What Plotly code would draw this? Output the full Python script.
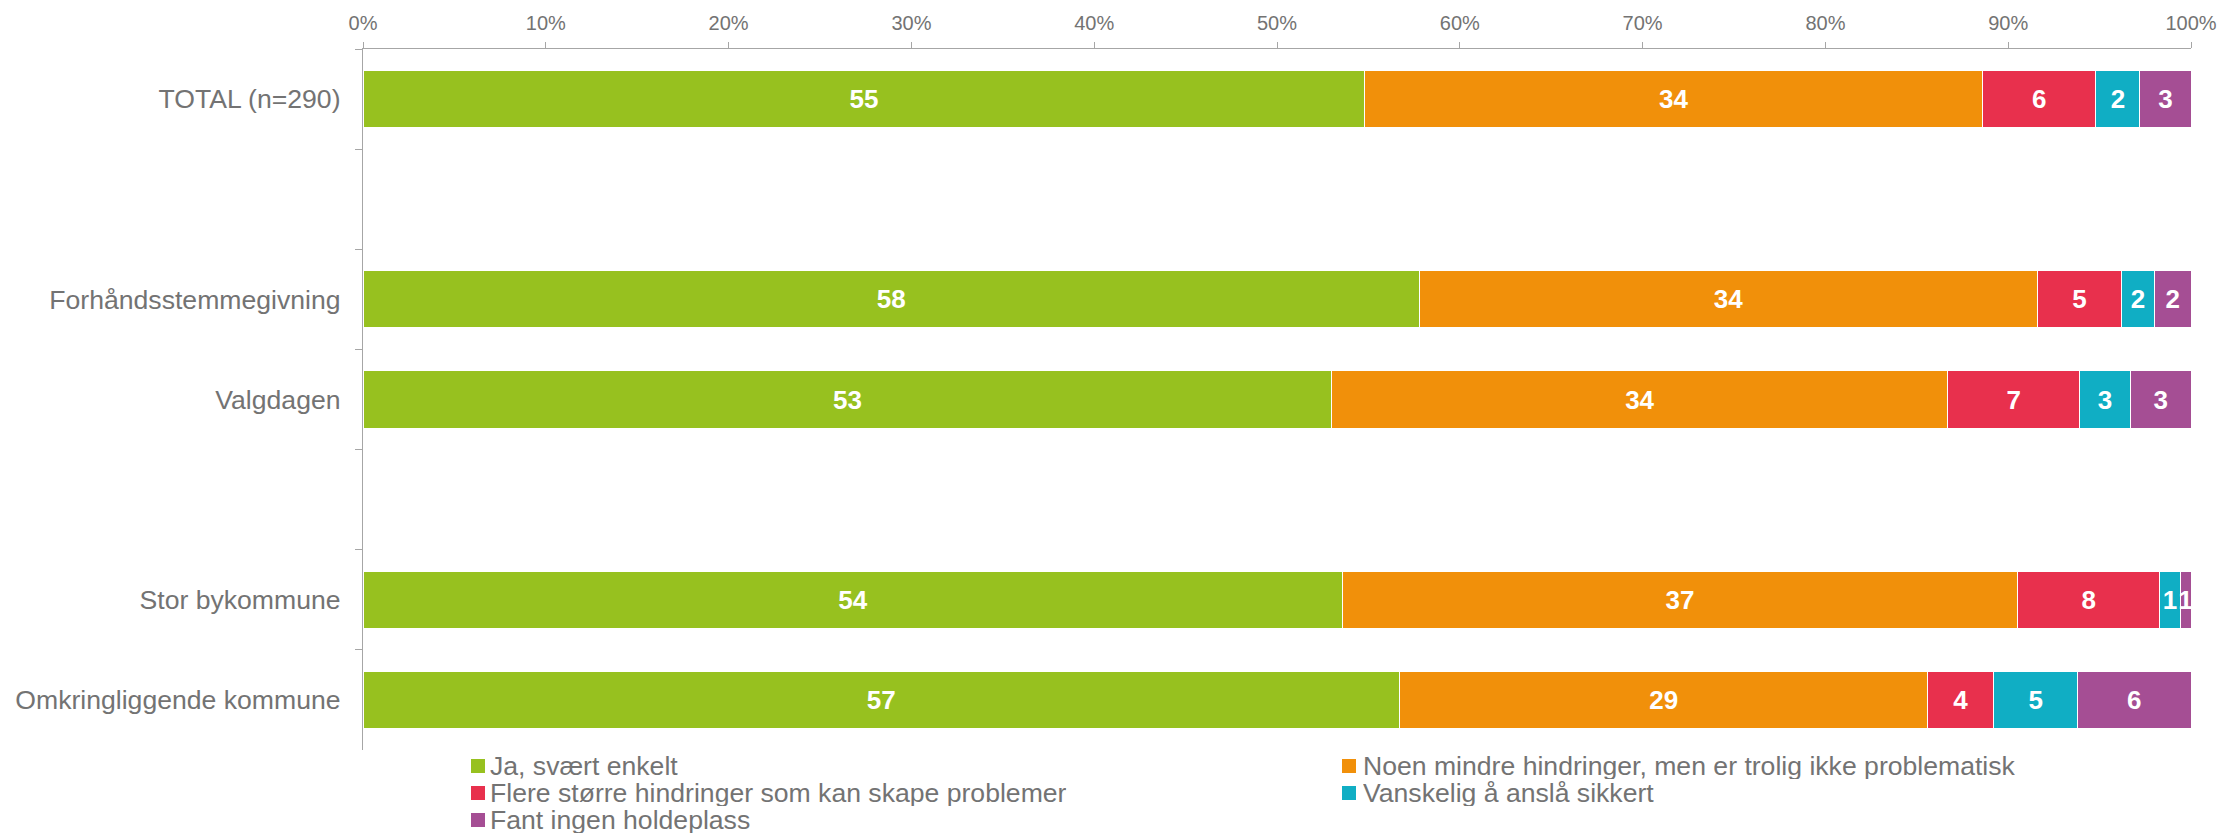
import plotly.graph_objects as go

# ---- data (percent) ----
categories = ["TOTAL (n=290)", " ", "Forhåndsstemmegivning", "Valgdagen", "  ",
              "Stor bykommune", "Omkringliggende kommune"]
series_names = ["Ja, svært enkelt",
                "Noen mindre hindringer, men er trolig ikke problematisk",
                "Flere større hindringer som kan skape problemer",
                "Vanskelig å anslå sikkert",
                "Fant ingen holdeplass"]
ja_svaert_enkelt = [54.8, None, 57.8, 53.0, None, 53.6, 56.7]
noen_mindre = [33.8, None, 33.8, 33.7, None, 36.9, 28.9]
flere_storre = [6.2, None, 4.6, 7.2, None, 7.8, 3.6]
vanskelig = [2.4, None, 1.8, 2.8, None, 1.1, 4.6]
fant_ingen = [2.8, None, 2.0, 3.3, None, 0.6, 6.2]
x_ticks = [0, 10, 20, 30, 40, 50, 60, 70, 80, 90, 100]
x_tick_labels = ["0%", "10%", "20%", "30%", "40%", "50%", "60%", "70%", "80%", "90%", "100%"]

series_values = [ja_svaert_enkelt, noen_mindre, flere_storre, vanskelig, fant_ingen]
colors = ["#97C11F", "#F1900A", "#E8304D", "#10AEC4", "#A54E94"]

# ---- layout constants ----
W, H = 2220, 835
ML, MR, MT, MB = 363, 29, 49, 85
PW, PH = W - ML - MR, H - MT - MB
FONT = "Liberation Sans, Arial, sans-serif"
TEXT_COLOR = "#737373"
AXIS_COLOR = "#A6A6A6"

fig = go.Figure()
for name, vals, col in zip(series_names, series_values, colors):
    fig.add_trace(go.Bar(
        y=categories, x=vals, name=name, orientation="h",
        marker=dict(color=col, line=dict(color="white", width=1)),
        texttemplate="%{x:.0f}", textposition="inside", insidetextanchor="middle",
        textfont=dict(family=FONT, size=26, color="white", weight="bold"),
        showlegend=False, cliponaxis=False,
    ))

# ---- legend as text + colour squares (two columns) ----
def px_to_paper_x(px):
    return (px - ML) / PW

def px_to_paper_y(py):
    return (H - MB - py) / PH

sq_left = [471, 1342]
txt_left = [489, 1362]
row_center = [766, 793, 820]
sq = 14
shapes, annotations = [], []
for i, (name, col) in enumerate(zip(series_names, colors)):
    c, r = i % 2, i // 2
    cy = row_center[r]
    shapes.append(dict(type="rect", xref="paper", yref="paper",
                       x0=px_to_paper_x(sq_left[c]), x1=px_to_paper_x(sq_left[c] + sq),
                       y0=px_to_paper_y(cy - sq / 2), y1=px_to_paper_y(cy + sq / 2),
                       fillcolor=col, line=dict(width=0)))
    annotations.append(dict(xref="paper", yref="paper", x=px_to_paper_x(txt_left[c]),
                            y=px_to_paper_y(cy), xanchor="left", yanchor="middle",
                            text=name, showarrow=False, borderpad=0, height=26,
                            valign="middle",
                            font=dict(family=FONT, size=26.6, color=TEXT_COLOR)))

fig.update_layout(
    width=W, height=H,
    margin=dict(l=ML, r=MR, t=MT, b=MB, pad=0, autoexpand=False),
    barmode="stack", bargap=0.43,
    plot_bgcolor="white", paper_bgcolor="white",
    font=dict(family=FONT, color=TEXT_COLOR),
    uniformtext=dict(minsize=26, mode="show"),
    shapes=shapes, annotations=annotations,
    xaxis=dict(side="top", range=[0, 100], tickvals=x_ticks, ticktext=x_tick_labels,
               automargin=False,
               showgrid=False, zeroline=False, showline=True, linecolor=AXIS_COLOR,
               linewidth=1.3, ticks="outside", ticklen=6, tickcolor=AXIS_COLOR,
               tickwidth=1.3, tickfont=dict(family=FONT, size=20, color=TEXT_COLOR),
               ticklabelstandoff=4),
    yaxis=dict(type="category", categoryorder="array", categoryarray=categories,
               range=[6.5, -0.5], tickson="boundaries", ticks="outside", ticklen=7,
               automargin=False,
               tickcolor=AXIS_COLOR, tickwidth=1.3, showline=True, linecolor=AXIS_COLOR,
               linewidth=1.3, showgrid=False, zeroline=False,
               tickfont=dict(family=FONT, size=26.6, color=TEXT_COLOR),
               ticklabelstandoff=16),
)

fig.write_html("out.html", config={"displayModeBar": False},
               post_script="document.body.style.margin='0';document.body.style.overflow='hidden';")
